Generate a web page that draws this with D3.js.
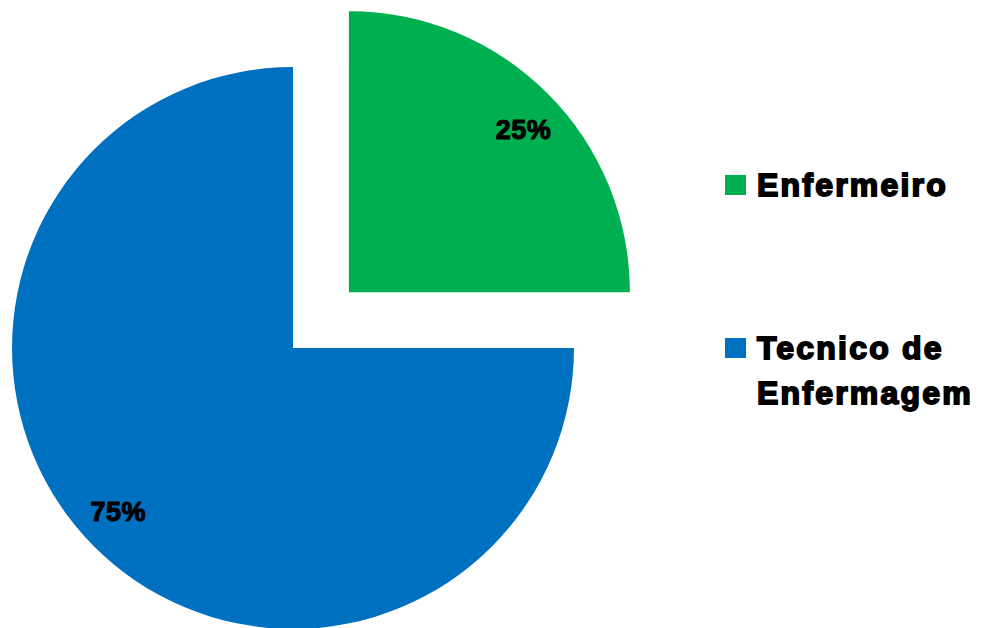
<!DOCTYPE html>
<html>
<head>
<meta charset="utf-8">
<script src="https://cdn.jsdelivr.net/npm/d3@7"></script>
<style>
  html, body { margin: 0; padding: 0; background: #ffffff; }
  svg { display: block; }
</style>
</head>
<body>
<svg id="chart" width="981" height="628"></svg>
<script>
// Categories and their shares (percent)
const categories = ["Enfermeiro", "Tecnico de Enfermagem"];
const values = [25, 75];
const colors = ["#00B050", "#0070C0"];
const legendLines = [["Enfermeiro"], ["Tecnico de", "Enfermagem"]];

const svg = d3.select("#chart");
const cx = 293, cy = 348, R = 281;
const explode = 79; // distance the first slice is pulled out

const pie = d3.pie().sort(null).value(d => d.value);
const data = pie(categories.map((c, i) => ({ name: c, value: values[i], color: colors[i], idx: i })));

const arc = d3.arc().innerRadius(0).outerRadius(R);
const labelR = R * 0.85;
const labelShift = 0.035; // small clockwise nudge of the percentage labels

const total = d3.sum(values);
const fmt = d3.format(".0%");

const g = svg.append("g").attr("transform", `translate(${cx},${cy})`);

const slices = g.selectAll("g.slice")
  .data(data)
  .join("g")
  .attr("class", "slice")
  .attr("transform", d => {
    if (d.data.idx !== 0) return null;
    const mid = (d.startAngle + d.endAngle) / 2;
    return `translate(${Math.sin(mid) * explode},${-Math.cos(mid) * explode})`;
  });

slices.append("path")
  .attr("d", arc)
  .attr("fill", d => d.data.color);

slices.append("text")
  .attr("transform", d => {
    const a = (d.startAngle + d.endAngle) / 2 + labelShift;
    return `translate(${Math.sin(a) * labelR},${-Math.cos(a) * labelR})`;
  })
  .attr("text-anchor", "middle")
  .attr("dy", "0.36em")
  .attr("font-family", "Liberation Sans, Arial, sans-serif")
  .attr("font-weight", "bold")
  .attr("font-size", 27)
  .attr("letter-spacing", 0.5)
  .attr("fill", "#000")
  .attr("stroke", "#000")
  .attr("stroke-width", 1.1)
  .text(d => fmt(d.data.value / total));

// Legend
const legend = svg.append("g").attr("class", "legend");
const legendY = [185, 348];
categories.forEach((c, i) => {
  const item = legend.append("g").attr("transform", `translate(725,${legendY[i]})`);
  item.append("rect")
    .attr("x", 0).attr("y", -10)
    .attr("width", 21).attr("height", 20)
    .attr("fill", colors[i]);
  const t = item.append("text")
    .attr("x", 32)
    .attr("y", 11)
    .attr("font-family", "Liberation Sans, Arial, sans-serif")
    .attr("font-weight", "bold")
    .attr("font-size", 32)
    .attr("letter-spacing", 2.2)
    .attr("fill", "#000")
    .attr("stroke", "#000")
    .attr("stroke-width", 1.8);
  legendLines[i].forEach((line, j) => {
    t.append("tspan").attr("x", 32).attr("dy", j === 0 ? 0 : 45).text(line);
  });
});
</script>
</body>
</html>
